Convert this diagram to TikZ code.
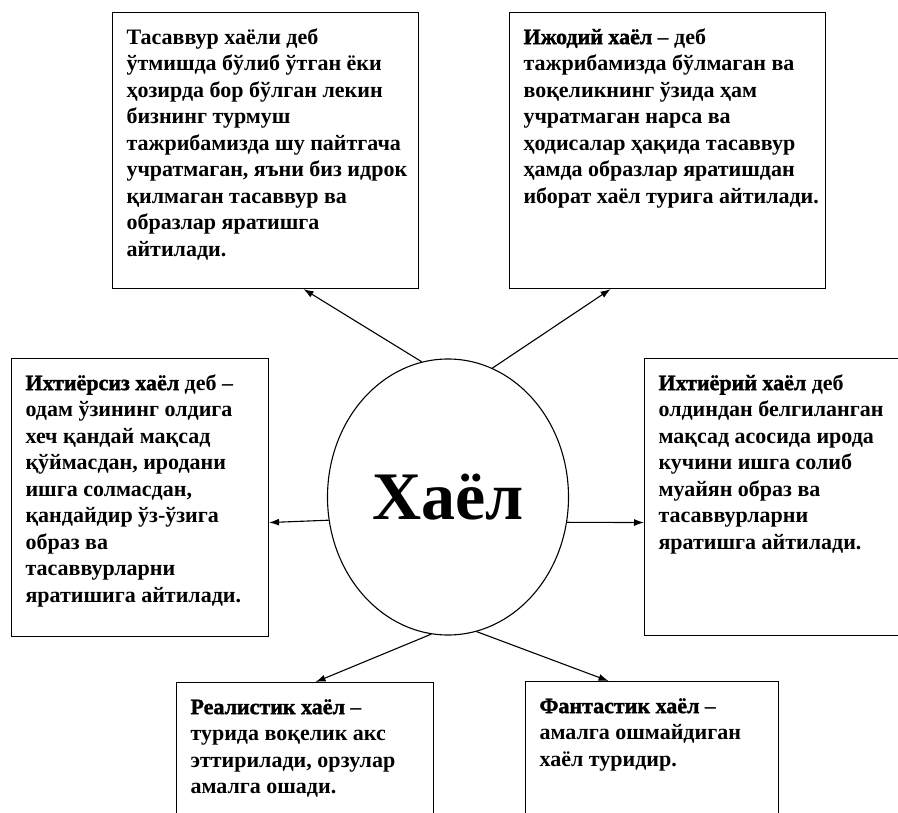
\documentclass[tikz,border=0pt]{standalone}
\usepackage{fontspec}
\setmainfont{Liberation Serif}
\newfontface\qalinroq[FakeBold=1.6]{Liberation Serif Bold}
\usepackage{tikz}
\usetikzlibrary{arrows.meta,calc,shapes.geometric}
\newcommand{\matn}[3]{\parbox[t][\dimexpr#2pt-26pt\relax][t]{\dimexpr#1pt-28pt\relax}{%
  \begin{tabular}[t]{@{}l@{}}#3\end{tabular}}}
\newcommand{\bosh}[1]{{\qalinroq #1}}
\tikzset{
  qutibox/.style={draw,line width=1.1pt,anchor=north west,inner xsep=14pt,inner ysep=13pt,
    font=\fontsize{22}{26.5}\selectfont\bfseries},
  markazbox/.style={draw,ellipse,line width=1.1pt,inner sep=0pt,
    minimum width=241pt,minimum height=276pt,font=\fontsize{68}{70}\selectfont\bfseries},
  yonarrow/.style={-{Latex[length=10pt,width=7pt]},line width=1.1pt}
}

\begin{document}
\begin{tikzpicture}[x=1pt,y=-1pt]
  \useasboundingbox (0,0) rectangle (898,813);
  \clip (0,0) rectangle (898,813);
  \node[markazbox] (xayol) at (448,497) {Хаёл};
  \node[qutibox] (tl) at (112,12) {\matn{306}{276}{Тасаввур хаёли деб\\
    ўтмишда бўлиб ўтган ёки\\ ҳозирда бор бўлган лекин\\ бизнинг турмуш\\
    тажрибамизда шу пайтгача\\ учратмаган, яъни биз идрок\\ қилмаган тасаввур ва\\
    образлар яратишга\\ айтилади.}};
  \node[qutibox] (tr) at (509,12) {\matn{316}{276}{\bosh{Ижодий хаёл} – деб\\
    тажрибамизда бўлмаган ва\\ воқеликнинг ўзида ҳам\\ учратмаган нарса ва\\
    ҳодисалар ҳақида тасаввур\\ ҳамда образлар яратишдан\\ иборат хаёл турига айтилади.}};
  \node[qutibox] (lb) at (11,358) {\matn{257}{278}{\bosh{Ихтиёрсиз хаёл} деб –\\
    одам ўзининг олдига\\ хеч қандай мақсад\\ қўймасдан, иродани\\ ишга солмасдан,\\
    қандайдир ўз-ўзига\\ образ ва\\ тасаввурларни\\ яратишига айтилади.}};
  \node[qutibox] (rb) at (644,358) {\matn{270}{277}{\bosh{Ихтиёрий хаёл} деб\\
    олдиндан белгиланган\\ мақсад асосида ирода\\ кучини ишга солиб\\
    муайян образ ва\\ тасаввурларни\\ яратишга айтилади.}};
  \node[qutibox] (bl) at (176,682) {\matn{257}{160}{\bosh{Реалистик хаёл} –\\
    турида воқелик акс\\ эттирилади, орзулар\\ амалга ошади.}};
  \node[qutibox] (br) at (525,681) {\matn{253}{160}{\bosh{Фантастик хаёл} –\\
    амалга ошмайдиган\\ хаёл туридир.}};
  \draw[yonarrow] (xayol.101.5) -- ($(tl.south)+(38,0)$);
  \draw[yonarrow] (xayol.71.6) -- ($(tr.south)+(-57,0)$);
  \draw[yonarrow] (xayol.191.7) -- ($(lb.east)+(0,25)$);
  \draw[yonarrow] (xayol.348) -- ($(rb.west)+(0,25.5)$);
  \draw[yonarrow] (xayol.263.8) -- ($(bl.north)+(10.5,0)$);
  \draw[yonarrow] (xayol.282.7) -- ($(br.north)+(-43.5,0)$);
\end{tikzpicture}
\end{document}
